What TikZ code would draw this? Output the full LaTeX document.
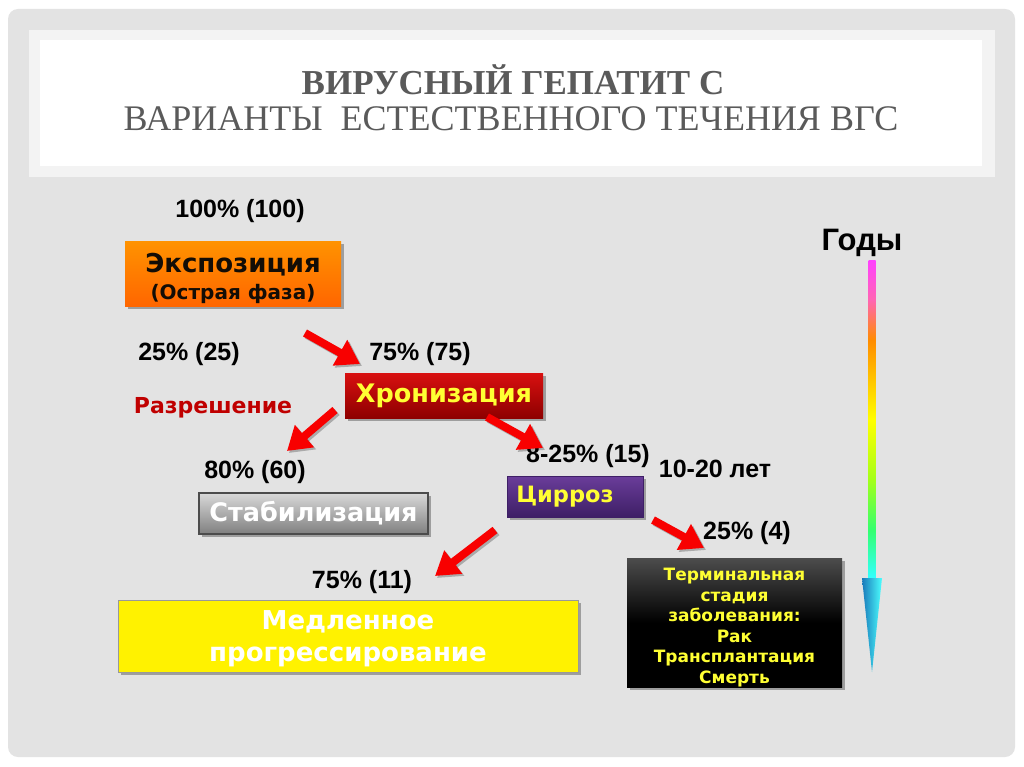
\documentclass[tikz,border=0pt]{standalone}
\usepackage{fontspec}
\setmainfont{Liberation Serif}
\newfontfamily\titlefont{Liberation Serif}
\newfontfamily\boxfont{DejaVu Sans}
\newfontfamily\numfont{Liberation Sans}
\usetikzlibrary{arrows.meta,shadows,shadings}
\definecolor{bggray}{HTML}{E3E3E3}
\definecolor{panelgray}{HTML}{F3F3F3}
\definecolor{titlegray}{HTML}{5A5A5A}
\definecolor{arrred}{HTML}{F80000}
\definecolor{razred}{HTML}{C00000}
\definecolor{yel}{HTML}{FFFF33}
\definecolor{purtop}{HTML}{6A3D9A}
\definecolor{purbot}{HTML}{3E1F66}
\definecolor{chrtop}{HTML}{D81010}
\definecolor{chrbot}{HTML}{8E0000}
\pgfdeclareverticalshading{rainbow}{100bp}{%
  color(0bp)=(cyan!80!white);
  color(25bp)=(cyan!80!white);
  color(32.5bp)=(green!70!cyan!80!white);
  color(40.4bp)=(yellow!60!green!90!white);
  color(49.8bp)=(yellow);
  color(62.4bp)=(orange!90!yellow);
  color(68.7bp)=(red!50!magenta!60!white);
  color(75bp)=(magenta!75!white);
  color(100bp)=(magenta!75!white)}
\tikzset{
  boxbase/.style={inner sep=0pt, align=center,
    drop shadow={shadow xshift=2.5pt, shadow yshift=-2.5pt, opacity=0.45, fill=black!70}},
  num/.style={font=\numfont\bfseries\fontsize{25}{29}\selectfont, text=black, inner sep=0pt},
  redarrow/.style={draw=arrred, line width=8pt, -{Triangle[length=23pt,width=28pt]}},
  arrshadow/.style={draw=black, opacity=0.25, line width=8pt, -{Triangle[length=23pt,width=28pt]}},
}
\begin{document}
\begin{tikzpicture}[x=1pt,y=-1pt]
\useasboundingbox (0,0) rectangle (1024,767);
\fill[white] (0,0) rectangle (1024,767);
% slide background
\fill[bggray, rounded corners=10pt] (8,9) rectangle (1015,757);
% title panel
\fill[panelgray] (29,30) rectangle (995,177);
\fill[white] (40,40) rectangle (982,166);
\node[font=\titlefont\bfseries\fontsize{35}{40}\selectfont, text=titlegray, inner sep=0pt] (t1) at (513,80) {ВИРУСНЫЙ ГЕПАТИТ С};
\node[font=\titlefont\fontsize{36}{40}\selectfont, text=titlegray, inner sep=0pt] (t2) at (511,119) {ВАРИАНТЫ\ \ ЕСТЕСТВЕННОГО ТЕЧЕНИЯ ВГС};

% boxes
\node[boxbase, minimum width=216pt, minimum height=65pt, top color=orange!85!yellow, bottom color=orange!80!red,
  label={[yshift=-5pt, inner sep=0pt, align=center, font=\boxfont\bfseries\fontsize{26}{27}\selectfont, text=black!90!brown]center:{Экспозиция\\{\fontsize{20}{27}\selectfont (Острая фаза)}}}] (expo) at (233,273.5) {};
\node[boxbase, minimum width=198pt, minimum height=45pt, top color=chrtop, bottom color=chrbot,
  font=\boxfont\bfseries\fontsize{25.5}{28}\selectfont, text=yel] (chron) at (444,395.5) {Хронизация};
\node[boxbase, minimum width=229pt, minimum height=41pt, draw=black!70, line width=1.2pt, top color=black!15, bottom color=black!50,
  font=\boxfont\bfseries\fontsize{25.5}{28}\selectfont, text=white] (stab) at (313.5,513.5) {Стабилизация};
\node[boxbase, minimum width=136pt, minimum height=41pt, top color=purtop, bottom color=purbot,
  draw=purbot, font=\boxfont\bfseries\fontsize{22.5}{26}\selectfont, text=yel] (cirr) at (575,496.5) {Цирроз\hspace{20pt}};
\node[boxbase, minimum width=460pt, minimum height=72pt, fill=yellow, draw=black!40,
  label={[yshift=-3pt, inner sep=0pt, align=center, font=\boxfont\bfseries\fontsize{26}{32}\selectfont, text=white]center:{Медленное\\прогрессирование}}] (slow) at (348,636) {};
\node[boxbase, minimum width=215pt, minimum height=129pt, top color=black!70, bottom color=black, middle color=black,
  label={[yshift=-5pt, inner sep=0pt, align=center, font=\boxfont\bfseries\fontsize{17}{20.6}\selectfont, text=yel]center:{Терминальная\\стадия\\заболевания:\\Рак\\Трансплантация\\Смерть}}] (term) at (734.5,622.5) {};

% labels
\node[num] (p100) at (240,211) {100\% (100)};
\node[num] (p25) at (189,354) {25\% (25)};
\node[num] (p75) at (420,354) {75\% (75)};
\node[font=\boxfont\bfseries\fontsize{22}{26}\selectfont, text=razred, inner sep=0pt] (razr) at (213,408) {Разрешение};
\node[num] (p80) at (255,472) {80\% (60)};
\node[num] (p825) at (588,456) {8-25\% (15)};
\node[num] (yrs) at (715,469) {10-20 лет};
\node[num] (p7511) at (362,582) {75\% (11)};
\node[num] (p254) at (747,533) {25\% (4)};
\node[font=\numfont\bfseries\fontsize{31}{34}\selectfont, inner sep=0pt] (gody) at (862,243) {Годы};

% red arrows
\coordinate (a1s) at (305,333); \coordinate (a1e) at (360,364);
\coordinate (a2s) at (335,410); \coordinate (a2e) at (287,451);
\coordinate (a3s) at (487,417); \coordinate (a3e) at (543,448);
\coordinate (a4s) at (495,530); \coordinate (a4e) at (435,576);
\coordinate (a5s) at (653,520); \coordinate (a5e) at (704,548);
\foreach \s/\e in {a1s/a1e,a2s/a2e,a3s/a3e,a4s/a4e,a5s/a5e}{
  \draw[arrshadow] ([shift={(2,2)}]\s) -- ([shift={(2,2)}]\e);
  \draw[redarrow] (\s) -- (\e);
}

% rainbow time arrow
\coordinate (rtop) at (872,260);
\coordinate (rmid) at (872,578);
\coordinate (rtip) at (872,672);
\shade[shading=rainbow] ([xshift=-3.5pt]rtop) rectangle ([xshift=3.5pt]rmid);
\shade[left color=cyan!60!blue!70!black!90, right color=cyan!70!white, shading angle=90]
  ([xshift=-10pt]rmid) -- ([xshift=10pt]rmid) -- (rtip) -- cycle;
\end{tikzpicture}
\end{document}
